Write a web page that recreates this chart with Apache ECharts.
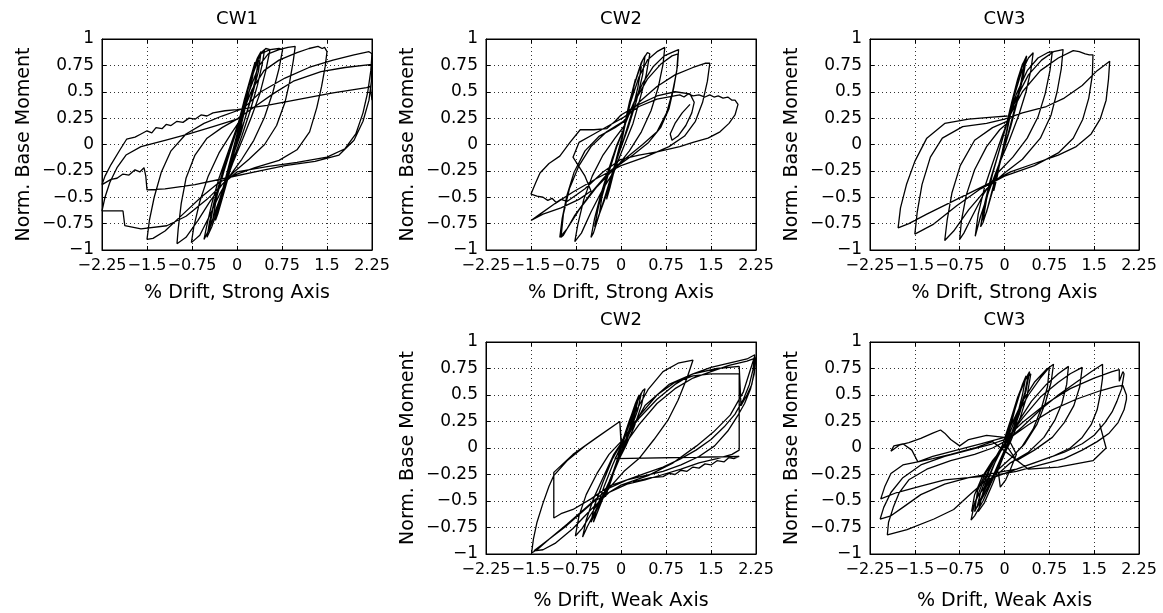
<!DOCTYPE html>
<html><head><meta charset="utf-8">
<script src="https://cdn.jsdelivr.net/npm/echarts@6.0.0/dist/echarts.min.js"></script>
<style>html,body{margin:0;padding:0;background:#fff}#c{width:1163px;height:613px}</style>
</head><body><div id="c"></div>
<script>
// ---------- DATA ----------
const xTicks = [-2.25, -1.5, -0.75, 0, 0.75, 1.5, 2.25];
const yTicks = [-1, -0.75, -0.5, -0.25, 0, 0.25, 0.5, 0.75, 1];
const panelTitles = ['CW1', 'CW2', 'CW3', 'CW2', 'CW3'];
const xAxisNames = ['% Drift, Strong Axis', '% Drift, Strong Axis', '% Drift, Strong Axis', '% Drift, Weak Axis', '% Drift, Weak Axis'];
const yAxisName = 'Norm. Base Moment';

// CW1, strong axis: loops of [drift %, normalised moment]
const cw1Strong = [
 [[0,0],[0.06,0.15],[0.12,0.32],[0.18,0.48],[0.14,0.38],[0.06,0.18],[-0.02,0],[-0.1,-0.2],[-0.18,-0.38],[-0.22,-0.46],[-0.16,-0.32],[-0.08,-0.14],[0,0.04]],
 [[0,0.04],[0.08,0.24],[0.16,0.46],[0.24,0.66],[0.3,0.78],[0.26,0.64],[0.16,0.4],[0.06,0.16],[-0.04,-0.06],[-0.14,-0.3],[-0.24,-0.5],[-0.32,-0.66],[-0.36,-0.72],[-0.3,-0.56],[-0.2,-0.34],[-0.08,-0.08],[0.02,0.14]],
 [[0.02,0.14],[0.12,0.38],[0.22,0.6],[0.32,0.78],[0.4,0.87],[0.46,0.9],[0.42,0.76],[0.34,0.56],[0.22,0.32],[0.08,0.08],[-0.06,-0.14],[-0.18,-0.36],[-0.3,-0.58],[-0.42,-0.78],[-0.5,-0.88],[-0.46,-0.74],[-0.38,-0.54],[-0.26,-0.3],[-0.12,-0.06],[0.02,0.18]],
 [[0.02,0.18],[0.12,0.42],[0.24,0.66],[0.34,0.82],[0.4,0.88],[0.36,0.7],[0.26,0.48],[0.12,0.22],[-0.02,0],[-0.16,-0.28],[-0.3,-0.54],[-0.42,-0.74],[-0.46,-0.8],[-0.4,-0.6],[-0.3,-0.38],[-0.16,-0.1],[0.02,0.18]],
 [[0.02,0.18],[0.1,0.36],[0.2,0.56],[0.3,0.72],[0.36,0.8],[0.3,0.6],[0.2,0.38],[0.06,0.1],[-0.1,-0.16],[-0.22,-0.4],[-0.34,-0.62],[-0.4,-0.7],[-0.34,-0.5],[-0.22,-0.26],[-0.08,0],[0.02,0.18]],
 [[0.02,0.18],[0.14,0.44],[0.26,0.68],[0.36,0.84],[0.48,0.91],[0.55,0.9],[0.48,0.7],[0.38,0.48],[0.24,0.26],[0.1,0.06],[-0.06,-0.16],[-0.2,-0.38],[-0.34,-0.6],[-0.46,-0.8],[-0.55,-0.9],[-0.5,-0.76],[-0.42,-0.56],[-0.3,-0.32],[-0.14,-0.06],[0.02,0.2]],
 [[0.02,0.2],[0.14,0.46],[0.26,0.7],[0.4,0.86],[0.55,0.9],[0.7,0.91],[0.76,0.9],[0.7,0.72],[0.6,0.5],[0.46,0.26],[0.28,0.04],[0.08,-0.14],[-0.1,-0.28],[-0.28,-0.46],[-0.46,-0.68],[-0.62,-0.86],[-0.76,-0.93],[-0.72,-0.78],[-0.62,-0.54],[-0.48,-0.3],[-0.3,-0.08],[-0.1,0.1],[0.04,0.22]],
 [[0.04,0.22],[0.2,0.5],[0.36,0.74],[0.52,0.86],[0.7,0.9],[0.85,0.92],[0.97,0.93],[0.94,0.8],[0.88,0.6],[0.8,0.4],[0.66,0.18],[0.46,0],[0.2,-0.14],[-0.05,-0.26],[-0.25,-0.38],[-0.45,-0.54],[-0.65,-0.72],[-0.85,-0.88],[-1.0,-0.94],[-0.98,-0.8],[-0.93,-0.56],[-0.85,-0.32],[-0.7,-0.1],[-0.5,0.06],[-0.25,0.16],[0,0.24],[0.08,0.28]],
 [[0.08,0.28],[0.25,0.52],[0.45,0.7],[0.7,0.8],[1.0,0.87],[1.2,0.91],[1.35,0.93],[1.42,0.91],[1.46,0.92],[1.5,0.88],[1.47,0.74],[1.41,0.55],[1.33,0.35],[1.21,0.12],[1.0,-0.05],[0.7,-0.15],[0.3,-0.22],[0,-0.28],[-0.3,-0.36],[-0.6,-0.5],[-0.9,-0.66],[-1.2,-0.82],[-1.4,-0.89],[-1.5,-0.9],[-1.46,-0.72],[-1.38,-0.5],[-1.26,-0.26],[-1.1,-0.06],[-0.85,0.1],[-0.55,0.2],[-0.25,0.27],[0,0.32],[0.1,0.34]],
 [[0.1,0.34],[0.4,0.5],[0.8,0.63],[1.2,0.73],[1.6,0.8],[1.95,0.85],[2.2,0.88],[2.25,0.86],[2.23,0.7],[2.18,0.5],[2.1,0.3],[1.98,0.1],[1.8,-0.04],[1.5,-0.12],[1.0,-0.17],[0.5,-0.21],[0,-0.26],[-0.25,-0.38],[-0.5,-0.52],[-0.85,-0.68],[-1.17,-0.77],[-1.6,-0.8],[-1.87,-0.77],[-1.9,-0.63],[-2.25,-0.63]],
 [[-2.25,-0.63],[-2.2,-0.5],[-2.12,-0.36],[-2.0,-0.22],[-1.85,-0.1],[-1.6,-0.02],[-1.2,0.04],[-0.8,0.1],[-0.4,0.17],[0,0.24],[0.3,0.36],[0.6,0.48],[0.94,0.6],[1.4,0.69],[1.8,0.73],[2.25,0.76],[2.24,0.6],[2.2,0.42],[2.1,0.22],[1.95,0.04],[1.7,-0.1],[1.3,-0.16],[0.8,-0.2],[0.3,-0.26],[-0.2,-0.32],[-0.7,-0.38],[-1.2,-0.42],[-1.5,-0.43],[-1.52,-0.3],[-1.55,-0.22],[-1.62,-0.26],[-1.7,-0.24],[-1.8,-0.29],[-1.9,-0.28],[-2.0,-0.32],[-2.1,-0.33],[-2.25,-0.38]],
 [[-2.25,-0.38],[-2.2,-0.3],[-2.1,-0.19],[-1.95,-0.05],[-1.84,0.05],[-1.7,0.07],[-1.6,0.1],[-1.5,0.13],[-1.42,0.11],[-1.35,0.16],[-1.25,0.15],[-1.18,0.19],[-1.1,0.18],[-1.0,0.22],[-0.9,0.21],[-0.8,0.25],[-0.7,0.24],[-0.6,0.28],[-0.5,0.27],[-0.4,0.3],[-0.2,0.32],[0,0.33],[0.5,0.37],[1.05,0.43],[1.6,0.49],[2.16,0.54],[2.22,0.55],[2.25,0.42]]
];

// CW2, strong axis
const cw2Strong = [
 [[0,0],[0.08,0.22],[0.16,0.44],[0.24,0.62],[0.2,0.5],[0.1,0.26],[0,0.02],[-0.1,-0.22],[-0.18,-0.4],[-0.24,-0.52],[-0.18,-0.38],[-0.08,-0.14],[0.02,0.08]],
 [[0.02,0.08],[0.12,0.34],[0.24,0.6],[0.36,0.8],[0.44,0.87],[0.48,0.86],[0.42,0.66],[0.32,0.44],[0.2,0.2],[0.06,0],[-0.08,-0.2],[-0.22,-0.44],[-0.36,-0.66],[-0.46,-0.84],[-0.5,-0.88],[-0.44,-0.7],[-0.34,-0.48],[-0.22,-0.26],[-0.08,-0.02],[0.04,0.14]],
 [[0.04,0.14],[0.14,0.4],[0.26,0.64],[0.34,0.78],[0.4,0.84],[0.36,0.66],[0.26,0.42],[0.12,0.16],[-0.02,-0.06],[-0.16,-0.3],[-0.3,-0.56],[-0.4,-0.72],[-0.44,-0.78],[-0.38,-0.6],[-0.28,-0.38],[-0.14,-0.12],[0.04,0.14]],
 [[0.04,0.14],[0.12,0.34],[0.22,0.56],[0.3,0.7],[0.34,0.74],[0.28,0.54],[0.18,0.3],[0.04,0.04],[-0.12,-0.22],[-0.26,-0.48],[-0.36,-0.66],[-0.32,-0.5],[-0.2,-0.26],[-0.06,0],[0.04,0.14]],
 [[0.04,0.14],[0.16,0.4],[0.3,0.64],[0.44,0.8],[0.6,0.88],[0.73,0.92],[0.7,0.76],[0.62,0.54],[0.5,0.32],[0.34,0.12],[0.14,-0.06],[-0.08,-0.22],[-0.3,-0.42],[-0.5,-0.64],[-0.66,-0.84],[-0.77,-0.92],[-0.72,-0.76],[-0.62,-0.52],[-0.48,-0.3],[-0.3,-0.1],[-0.1,0.06],[0.06,0.18]],
 [[0.06,0.18],[0.2,0.38],[0.36,0.58],[0.54,0.74],[0.72,0.84],[0.88,0.88],[0.96,0.9],[0.94,0.74],[0.88,0.54],[0.8,0.34],[0.66,0.16],[0.46,0.02],[0.2,-0.1],[-0.1,-0.22],[-0.4,-0.4],[-0.7,-0.62],[-0.9,-0.8],[-1.02,-0.88],[-0.98,-0.7],[-0.9,-0.48],[-0.78,-0.26],[-0.6,-0.06],[-0.36,0.08],[-0.1,0.16],[0.06,0.22]],
 [[0.06,0.22],[0.24,0.42],[0.44,0.62],[0.66,0.76],[0.85,0.84],[0.95,0.86],[0.93,0.7],[0.86,0.5],[0.76,0.3],[0.6,0.12],[0.36,0],[0.1,-0.12],[-0.2,-0.26],[-0.5,-0.46],[-0.78,-0.68],[-0.96,-0.86],[-1.0,-0.88],[-0.96,-0.66],[-0.86,-0.42],[-0.7,-0.2],[-0.5,-0.02],[-0.24,0.12],[0.04,0.22]],
 [[0.04,0.22],[0.3,0.4],[0.6,0.55],[0.9,0.66],[1.2,0.73],[1.4,0.77],[1.48,0.77],[1.44,0.6],[1.36,0.4],[1.24,0.22],[1.06,0.08],[0.8,-0.02],[0.4,-0.12],[0,-0.2],[-0.4,-0.32],[-0.8,-0.45],[-1.1,-0.56],[-1.35,-0.66],[-1.5,-0.72],[-1.3,-0.66],[-1.0,-0.6],[-0.7,-0.52],[-0.5,-0.44],[-0.6,-0.3],[-0.8,-0.12],[-0.7,0.02],[-0.45,0.1],[-0.2,0.18],[0.05,0.26]],
 [[0.05,0.26],[0.3,0.36],[0.6,0.43],[0.98,0.47],[1.05,0.45],[1.12,0.48],[1.2,0.46],[1.3,0.47],[1.4,0.45],[1.48,0.47],[1.55,0.45],[1.62,0.46],[1.7,0.44],[1.78,0.45],[1.85,0.42],[1.9,0.42],[1.95,0.38],[1.9,0.28],[1.8,0.2],[1.65,0.12],[1.45,0.06],[1.2,0.02],[0.98,-0.02],[0.6,-0.07],[0.3,-0.1],[0,-0.14],[-0.3,-0.26],[-0.6,-0.42],[-0.8,-0.5],[-0.9,-0.54],[-1.0,-0.52],[-1.08,-0.55],[-1.15,-0.51],[-1.22,-0.53],[-1.3,-0.5],[-1.4,-0.49],[-1.5,-0.47],[-1.42,-0.36],[-1.35,-0.27],[-1.2,-0.18],[-1.02,-0.11],[-0.85,0.02],[-0.68,0.14],[-0.45,0.14],[-0.24,0.15],[-0.1,0.22],[0,0.28]],
 [[0,0.28],[0.3,0.38],[0.6,0.46],[0.9,0.5],[1.15,0.48],[1.22,0.4],[1.18,0.3],[1.08,0.18],[0.95,0.08],[0.85,0.04],[0.82,0.1],[0.9,0.2],[1.02,0.3],[1.15,0.38]]
];

// CW3, strong axis
const cw3Strong = [
 [[0,0],[0.06,0.2],[0.14,0.42],[0.2,0.56],[0.14,0.4],[0.04,0.12],[-0.06,-0.12],[-0.12,-0.3],[-0.18,-0.44],[-0.12,-0.28],[-0.02,-0.02],[0.04,0.14]],
 [[0.04,0.14],[0.14,0.42],[0.24,0.64],[0.32,0.78],[0.37,0.84],[0.32,0.66],[0.22,0.42],[0.1,0.16],[-0.04,-0.1],[-0.16,-0.36],[-0.28,-0.6],[-0.36,-0.74],[-0.4,-0.78],[-0.34,-0.58],[-0.24,-0.34],[-0.1,-0.08],[0.02,0.16]],
 [[0.02,0.16],[0.12,0.4],[0.22,0.62],[0.3,0.76],[0.34,0.8],[0.28,0.6],[0.18,0.36],[0.06,0.1],[-0.08,-0.16],[-0.2,-0.42],[-0.3,-0.64],[-0.36,-0.72],[-0.3,-0.52],[-0.2,-0.28],[-0.06,0],[0.02,0.16]],
 [[0.02,0.16],[0.14,0.42],[0.28,0.68],[0.4,0.82],[0.48,0.87],[0.44,0.7],[0.36,0.5],[0.24,0.28],[0.08,0.04],[-0.1,-0.2],[-0.26,-0.44],[-0.4,-0.68],[-0.49,-0.87],[-0.44,-0.66],[-0.34,-0.42],[-0.2,-0.18],[-0.04,0.08],[0.04,0.2]],
 [[0.04,0.2],[0.2,0.48],[0.38,0.7],[0.56,0.82],[0.72,0.87],[0.8,0.88],[0.76,0.7],[0.68,0.48],[0.56,0.26],[0.38,0.06],[0.14,-0.12],[-0.1,-0.26],[-0.34,-0.46],[-0.54,-0.68],[-0.68,-0.84],[-0.75,-0.9],[-0.72,-0.72],[-0.64,-0.48],[-0.5,-0.24],[-0.3,-0.02],[-0.08,0.14],[0.04,0.2]],
 [[0.04,0.2],[0.2,0.44],[0.4,0.66],[0.62,0.8],[0.82,0.88],[0.98,0.9],[0.95,0.72],[0.88,0.5],[0.78,0.28],[0.6,0.06],[0.3,-0.14],[0,-0.27],[-0.3,-0.42],[-0.6,-0.62],[-0.85,-0.82],[-1.0,-0.91],[-0.96,-0.72],[-0.88,-0.46],[-0.74,-0.2],[-0.5,0.04],[-0.2,0.16],[0.04,0.22]],
 [[0.04,0.22],[0.3,0.5],[0.6,0.7],[0.9,0.82],[1.15,0.89],[1.25,0.88],[1.35,0.86],[1.42,0.85],[1.48,0.85],[1.47,0.66],[1.41,0.44],[1.31,0.24],[1.15,0.06],[0.9,-0.08],[0.5,-0.2],[0,-0.3],[-0.4,-0.42],[-0.8,-0.58],[-1.2,-0.76],[-1.5,-0.85],[-1.46,-0.64],[-1.38,-0.38],[-1.24,-0.12],[-1.04,0.06],[-0.7,0.17],[-0.3,0.2],[0,0.24]],
 [[0,0.24],[0.3,0.3],[0.7,0.36],[1.0,0.44],[1.3,0.56],[1.55,0.7],[1.76,0.79],[1.74,0.62],[1.7,0.42],[1.6,0.24],[1.45,0.1],[1.2,-0.02],[0.9,-0.1],[0.5,-0.18],[0.1,-0.26],[-0.3,-0.38],[-0.8,-0.52],[-1.3,-0.66],[-1.6,-0.75],[-1.78,-0.79],[-1.74,-0.6],[-1.64,-0.38],[-1.5,-0.16],[-1.3,0.06],[-1.0,0.2],[-0.6,0.24],[-0.2,0.26],[0.05,0.27]]
];

// CW2, weak axis
const cw2Weak = [
 [[0,0],[0.1,0.16],[0.2,0.32],[0.28,0.44],[0.2,0.28],[0.08,0.08],[-0.06,-0.12],[-0.16,-0.3],[-0.26,-0.46],[-0.2,-0.34],[-0.08,-0.14],[0.02,0.04]],
 [[0.02,0.04],[0.14,0.24],[0.26,0.42],[0.36,0.54],[0.4,0.56],[0.34,0.4],[0.22,0.2],[0.08,0.02],[-0.08,-0.16],[-0.22,-0.36],[-0.36,-0.56],[-0.46,-0.7],[-0.4,-0.56],[-0.28,-0.36],[-0.14,-0.16],[0,0.02]],
 [[0,0.02],[0.12,0.22],[0.24,0.42],[0.3,0.5],[0.24,0.34],[0.12,0.12],[-0.04,-0.1],[-0.2,-0.32],[-0.38,-0.54],[-0.56,-0.74],[-0.64,-0.84],[-0.58,-0.68],[-0.46,-0.48],[-0.3,-0.28],[-0.12,-0.06],[0.02,0.06]],
 [[0.02,0.06],[0.14,0.26],[0.26,0.44],[0.34,0.52],[0.28,0.36],[0.14,0.14],[-0.04,-0.12],[-0.22,-0.36],[-0.4,-0.58],[-0.5,-0.7],[-0.44,-0.54],[-0.3,-0.32],[-0.14,-0.1],[0.02,0.06]],
 [[0.02,0.06],[0.2,0.3],[0.45,0.55],[0.7,0.72],[0.95,0.8],[1.2,0.83],[1.1,0.66],[0.95,0.45],[0.78,0.26],[0.55,0.08],[0.3,-0.1],[0.05,-0.22],[-0.2,-0.38],[-0.45,-0.58],[-0.65,-0.76],[-0.76,-0.83],[-0.7,-0.64],[-0.58,-0.44],[-0.4,-0.24],[-0.2,-0.06],[0,0.06]],
 [[0,0.06],[0.3,0.28],[0.6,0.46],[0.9,0.6],[1.2,0.7],[1.5,0.76],[1.8,0.8],[2.1,0.84],[2.23,0.88],[2.2,0.74],[2.14,0.6],[2.04,0.46],[1.9,0.32],[1.72,0.2],[1.5,0.08],[1.25,-0.02],[1.0,-0.1],[0.7,-0.18],[0.4,-0.24],[0.1,-0.3],[-0.2,-0.38],[-0.5,-0.52],[-0.9,-0.72],[-1.2,-0.86],[-1.4,-0.96],[-1.49,-0.99],[-1.46,-0.86],[-1.4,-0.7],[-1.3,-0.52],[-1.2,-0.36],[-1.12,-0.26],[-0.9,-0.12],[-0.6,0.02],[-0.3,0.14],[-0.02,0.25],[0,0.1],[0.02,0]],
 [[0.02,0],[0.3,0.22],[0.6,0.42],[0.9,0.56],[1.2,0.66],[1.5,0.72],[1.8,0.78],[2.1,0.82],[2.25,0.85],[2.22,0.7],[2.16,0.56],[2.06,0.42],[1.94,0.3],[1.78,0.16],[1.56,0.02],[1.3,-0.08],[1.0,-0.16],[0.7,-0.22],[0.4,-0.26],[0.1,-0.3],[-0.2,-0.36],[-0.5,-0.48],[-0.8,-0.58],[-1.0,-0.62],[-1.12,-0.66],[-1.12,-0.44],[-1.12,-0.23],[-0.8,-0.06],[-0.4,0.1],[-0.02,0.25],[0,0.05]],
 [[0,0.05],[0.3,0.3],[0.6,0.5],[0.9,0.62],[1.2,0.68],[1.5,0.7],[1.8,0.7],[1.97,0.7],[1.97,0.4],[1.97,0.1],[1.97,-0.02],[1.85,-0.06],[1.6,-0.1],[1.3,-0.14],[1.0,-0.2],[0.7,-0.25],[0.4,-0.3],[0.1,-0.34],[-0.2,-0.42],[-0.5,-0.58],[-0.8,-0.76],[-1.1,-0.9],[-1.3,-0.96],[-1.45,-0.97],[-1.2,-0.86],[-0.9,-0.73],[-0.46,-0.51],[0,-0.35],[0.45,-0.26],[0.87,-0.14],[1.26,0.02],[1.54,0.15],[1.82,0.31],[2.04,0.53],[2.23,0.87]],
 [[2.23,0.87],[2.22,0.72],[2.18,0.6],[2.1,0.5],[2.0,0.4],[1.97,0.77],[1.6,0.75],[1.2,0.7],[0.8,0.6],[0.4,0.4],[0.1,0.1],[-0.1,-0.1]],
 [[1.97,-0.08],[1.88,-0.1],[1.8,-0.09],[1.72,-0.13],[1.6,-0.12],[1.5,-0.16],[1.4,-0.15],[1.3,-0.19],[1.2,-0.18],[1.1,-0.22],[1.0,-0.21],[0.9,-0.25],[0.8,-0.24],[0.7,-0.27],[0.5,-0.28],[0.2,-0.32]]
];

// CW3, weak axis
const cw3Weak = [
 [[0,0],[0.1,0.2],[0.2,0.42],[0.3,0.6],[0.36,0.68],[0.3,0.5],[0.2,0.28],[0.08,0.06],[-0.06,-0.14],[-0.2,-0.34],[-0.34,-0.52],[-0.44,-0.6],[-0.38,-0.46],[-0.26,-0.28],[-0.12,-0.08],[0.02,0.06]],
 [[0.02,0.06],[0.14,0.3],[0.26,0.52],[0.36,0.66],[0.42,0.72],[0.36,0.54],[0.26,0.34],[0.12,0.12],[-0.04,-0.1],[-0.2,-0.3],[-0.36,-0.5],[-0.5,-0.64],[-0.56,-0.68],[-0.5,-0.52],[-0.36,-0.32],[-0.2,-0.14],[-0.04,0.02]],
 [[-0.04,0.02],[0.1,0.26],[0.22,0.48],[0.32,0.62],[0.4,0.7],[0.34,0.52],[0.22,0.3],[0.08,0.08],[-0.08,-0.12],[-0.22,-0.3],[-0.36,-0.46],[-0.46,-0.56],[-0.4,-0.42],[-0.26,-0.22],[-0.1,-0.04],[0,0.04]],
 [[0,0.04],[0.12,0.28],[0.24,0.5],[0.34,0.64],[0.44,0.7],[0.38,0.5],[0.26,0.28],[0.1,0.06],[-0.06,-0.12],[-0.2,-0.28],[-0.34,-0.44],[-0.4,-0.5],[-0.32,-0.34],[-0.18,-0.16],[0,0.04]],
 [[0,0.04],[0.1,0.2],[0.3,0.44],[0.5,0.62],[0.7,0.74],[0.82,0.79],[0.78,0.62],[0.68,0.42],[0.54,0.22],[0.34,0.04],[0.1,-0.1],[-0.1,-0.2],[-0.3,-0.34],[-0.45,-0.46],[-0.55,-0.6],[-0.5,-0.44],[-0.38,-0.28],[-0.2,-0.12],[0,0.02]],
 [[0,0.02],[0.2,0.3],[0.4,0.5],[0.6,0.66],[0.75,0.76],[0.72,0.58],[0.62,0.38],[0.48,0.18],[0.3,0.02],[0.1,-0.1],[-0.1,-0.2],[-0.3,-0.36],[-0.5,-0.6],[-0.45,-0.4],[-0.3,-0.22],[-0.1,-0.06],[0,0.02]],
 [[0,0.02],[0.2,0.22],[0.45,0.44],[0.7,0.6],[0.9,0.7],[1.07,0.77],[1.04,0.6],[0.96,0.42],[0.84,0.26],[0.66,0.1],[0.4,-0.04],[0.1,-0.14],[-0.1,-0.24],[-0.07,-0.37],[0.02,-0.3],[0.1,-0.2],[0.2,-0.06],[0.1,0.05],[0,0.05]],
 [[0,0.05],[0.3,0.28],[0.6,0.48],[0.9,0.62],[1.1,0.7],[1.3,0.76],[1.26,0.58],[1.16,0.4],[1.0,0.24],[0.8,0.1],[0.5,-0.02],[0.2,-0.12],[0,0.05]],
 [[0,0.05],[0.3,0.2],[0.6,0.36],[0.9,0.5],[1.2,0.62],[1.45,0.72],[1.64,0.79],[1.64,0.66],[1.6,0.5],[1.55,0.36],[1.45,0.22],[1.3,0.1],[1.1,0],[0.8,-0.08],[0.5,-0.14],[0.2,-0.2],[-0.2,-0.24],[-0.6,-0.28],[-1.0,-0.34],[-1.4,-0.44],[-1.7,-0.56],[-1.9,-0.64],[-2.08,-0.67],[-2.02,-0.56],[-1.9,-0.42],[-1.7,-0.28],[-1.4,-0.16],[-1.0,-0.08],[-0.6,-0.02],[-0.2,0.04],[0,0.08]],
 [[0,0.08],[0.3,0.24],[0.7,0.42],[1.1,0.56],[1.5,0.66],[1.8,0.72],[1.92,0.74],[1.92,0.63],[1.98,0.72],[2.0,0.7],[1.96,0.56],[1.88,0.44],[1.8,0.34],[1.68,0.24],[1.5,0.12],[1.3,0.04],[1.0,-0.04],[0.7,-0.1],[0.4,-0.16],[0.1,-0.22],[-0.3,-0.3],[-0.6,-0.45],[-0.85,-0.58],[-1.18,-0.67],[-1.63,-0.77],[-1.96,-0.82],[-1.94,-0.7],[-1.86,-0.56],[-1.76,-0.42],[-1.6,-0.3],[-1.3,-0.2],[-0.9,-0.12],[-0.5,-0.06],[-0.2,0],[0,0.06]],
 [[0,0.06],[0.4,0.22],[0.8,0.36],[1.2,0.46],[1.6,0.54],[1.85,0.58],[1.98,0.59],[2.04,0.5],[2.04,0.46],[2.0,0.36],[1.9,0.24],[1.75,0.14],[1.55,0.06],[1.3,-0.02],[1.0,-0.1],[0.6,-0.16],[0.2,-0.22],[-0.2,-0.26],[-0.6,-0.28],[-1.0,-0.3],[-1.4,-0.36],[-1.8,-0.42],[-2.07,-0.48],[-2.0,-0.36],[-1.9,-0.24],[-1.7,-0.16],[-1.45,-0.13],[-1.2,-0.08],[-0.8,-0.02],[-0.4,0.04],[0,0.1]],
 [[0,0.1],[-0.3,0.12],[-0.6,0.08],[-0.75,0.02],[-0.9,0.08],[-1.0,0.14],[-1.07,0.17],[-1.2,0.14],[-1.4,0.09],[-1.6,0.05],[-1.75,0.03],[-1.9,-0.03],[-1.85,0.02],[-1.7,0.04],[-1.55,-0.02],[-1.45,-0.13],[-1.2,-0.1],[-0.9,-0.06],[-0.5,0],[-0.2,0.06],[0.4,-0.2],[0.9,-0.18],[1.48,-0.12],[1.7,0.0],[1.59,0.23]]
];

const panels = [cw1Strong, cw2Strong, cw3Strong, cw2Weak, cw3Weak];

// ---------- LAYOUT / STYLE ----------
const grids = [
  {left: 102, top: 39, width: 270, height: 211},
  {left: 486, top: 39, width: 270, height: 211},
  {left: 870, top: 39, width: 269, height: 211},
  {left: 486, top: 342, width: 270, height: 212},
  {left: 870, top: 342, width: 269, height: 212}
];
const titleY = [19, 19, 19, 320, 320];
const xNameGap = [34, 34, 34, 38, 38];
const FONT = 'DejaVu Sans';

function fmt(v) {
  const r = Math.round(v * 100) / 100;
  return String(r).replace('-', '\u2212');
}

const chart = echarts.init(document.getElementById('c'), null, {renderer: 'canvas'});
const xAxes = [], yAxes = [], series = [], graphics = [];
const xMin = xTicks[0], xMax = xTicks[xTicks.length - 1], xInt = xTicks[1] - xTicks[0];
const yMin = yTicks[0], yMax = yTicks[yTicks.length - 1], yInt = yTicks[1] - yTicks[0];

grids.forEach((g, i) => {
  const tick = {show: true, inside: true, length: 4, lineStyle: {color: '#000', width: 1}};
  const line = {show: true, onZero: false, lineStyle: {color: '#000', width: 1}};
  const split = {show: true, lineStyle: {color: '#333', width: 1, type: [1, 3]}};
  xAxes.push({
    type: 'value', gridIndex: i, position: 'bottom', min: xMin, max: xMax, interval: xInt,
    axisLine: line, axisTick: tick, splitLine: split,
    axisLabel: {color: '#000', fontFamily: FONT, fontSize: 16, margin: 8, formatter: fmt,
                showMinLabel: true, showMaxLabel: true, hideOverlap: false},
    name: xAxisNames[i], nameLocation: 'middle', nameGap: xNameGap[i],
    nameTextStyle: {color: '#000', fontFamily: FONT, fontSize: 19}
  });
  xAxes.push({
    type: 'value', gridIndex: i, position: 'top', min: xMin, max: xMax, interval: xInt,
    axisLine: line, axisTick: tick, splitLine: {show: false}, axisLabel: {show: false}
  });
  yAxes.push({
    type: 'value', gridIndex: i, position: 'left', min: yMin, max: yMax, interval: yInt,
    axisLine: line, axisTick: tick, splitLine: split,
    axisLabel: {color: '#000', fontFamily: FONT, fontSize: 17, margin: 8, formatter: fmt,
                showMinLabel: true, showMaxLabel: true},
    name: yAxisName, nameLocation: 'middle', nameGap: 68,
    nameTextStyle: {color: '#000', fontFamily: FONT, fontSize: 19}
  });
  yAxes.push({
    type: 'value', gridIndex: i, position: 'right', min: yMin, max: yMax, interval: yInt,
    axisLine: line, axisTick: tick, splitLine: {show: false}, axisLabel: {show: false}
  });
  const pts = [];
  panels[i].forEach(loop => loop.forEach(p => pts.push(p)));
  series.push({
    type: 'line', xAxisIndex: 2 * i, yAxisIndex: 2 * i, data: pts,
    symbol: 'none', smooth: false, silent: true, clip: true,
    lineStyle: {color: '#000', width: 1.3}
  });
  graphics.push({
    type: 'text', x: g.left + g.width / 2, y: titleY[i],
    style: {text: panelTitles[i], fill: '#000', font: '18px "DejaVu Sans"', align: 'center', verticalAlign: 'middle'}
  });
});

chart.setOption({
  animation: false,
  backgroundColor: '#fff',
  grid: grids.map(g => Object.assign({containLabel: false, show: true, borderColor: '#000', borderWidth: 1}, g)),
  xAxis: xAxes, yAxis: yAxes, series: series, graphic: graphics
});
</script></body></html>
